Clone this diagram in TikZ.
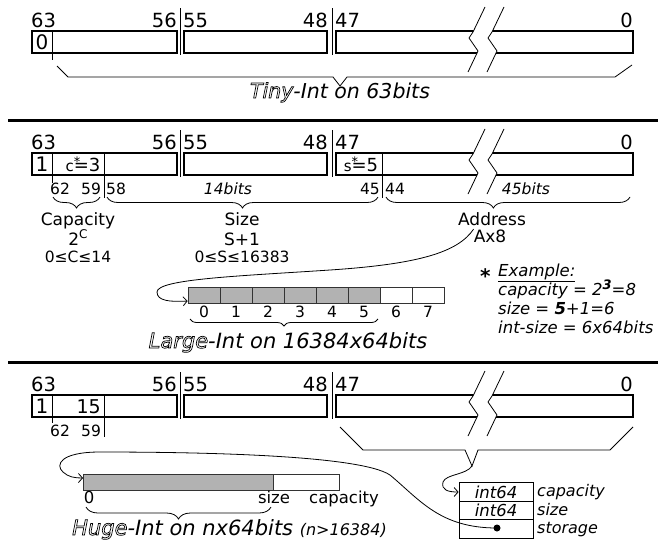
\documentclass[tikz,border=0pt]{standalone}
\usepackage{fontspec}
\setmainfont{DejaVu Sans}
\usetikzlibrary{decorations.pathreplacing,arrows.meta}

\newcommand{\fsz}[1]{\fontsize{#1}{#1}\selectfont}
\newcommand{\hollow}[1]{\special{pdf:literal direct 2 Tr 0.7 w 1 g 0 G}#1\special{pdf:literal direct 0 Tr 0 g}}
\newcommand{\starred}[2]{{\fsz{15}#1}\rlap{\raisebox{5.5pt}{\fsz{13}*}}=#2}

\tikzset{
  bitnum/.style={font=\fsz{19.5}, inner sep=0pt},
  subnum/.style={font=\fsz{15.5}, inner sep=0pt},
  hair/.style={line width=0.8pt},
  wordbox/.style={line width=2.8pt},
  rule/.style={line width=3pt},
  curly/.style={hair, decorate, decoration={brace, mirror, amplitude=#1}},
  curly/.default=11pt,
  cell/.style={draw=black!80, line width=0.7pt, minimum height=16pt, inner sep=0pt},
  used/.style={cell, fill=black!30},
  link/.style={hair, -{Straight Barb[length=4pt,width=9pt]}},
}

\newcommand{\wordrow}[1]{%
\begin{scope}[yshift=-#1pt]
\node[bitnum, anchor=base west] at (31,27) {63};
\node[bitnum, anchor=base east] at (177,27) {56};
\node[bitnum, anchor=base west] at (183,27) {55};
\node[bitnum, anchor=base east] at (328,27) {48};
\node[bitnum, anchor=base west] at (335,27) {47};
\node[bitnum, anchor=base east] at (633,27) {0};
\draw[hair] (180,8) -- (180,55) (332,8) -- (332,55);
\draw[wordbox] (32,31) rectangle (177,53) (184,31) rectangle (327,53) (336,31) rectangle (633,53);
\fill[white] (485,7) -- (473,32) -- (469,38) -- (478,51) -- (468,72) -- (487,72) -- (497,51) -- (488,38) -- (492,32) -- (504,7) -- cycle;
\foreach \d in {0,19} \draw[hair, xshift=\d pt] (485,7) -- (473,32) -- (469,38) -- (478,51) -- (468,72);
\end{scope}}

\begin{document}
\begin{tikzpicture}[x=1pt, y=-1pt]
\useasboundingbox (0,0) rectangle (660,544);

\wordrow{0}
\node[bitnum, font=\fsz{20}, anchor=base] (t0) at (42,49.5) {0};
\draw[hair] (52,31) -- (52,60);
\draw[hair] (57,66) -- (68,77) -- (333,77) -- (340,86) -- (347,77) -- (615,77) -- (632,65);
\node[font=\fsz{20.5}\itshape, anchor=base] (tiny) at (340,98) {\hollow{Tiny}-Int on 63bits};
\draw[rule] (8,120) -- (658,120);

\wordrow{122}
\node[bitnum, font=\fsz{20}, anchor=base] (l1) at (42,171.5) {1};
\node[inner sep=0pt, font=\fsz{18}, anchor=base] (cval) at (83,171.5) {\starred{c}{3}};
\node[inner sep=0pt, font=\fsz{18}, anchor=base] (sval) at (361,171.5) {\starred{s}{5}};
\draw[hair] (52,153) -- (52,183) (104,153) -- (104,198) (382,153) -- (382,198);
\node[subnum, anchor=base west] at (50,194) {62};
\node[subnum, anchor=base west] at (81,194) {59};
\node[subnum, anchor=base west] at (106,194) {58};
\node[subnum, font=\fsz{15.5}\itshape, anchor=base] at (228,194) {14bits};
\node[subnum, anchor=base east] at (380,194) {45};
\node[subnum, anchor=base west] at (385,194) {44};
\node[subnum, font=\fsz{15.5}\itshape, anchor=base] at (526,194) {45bits};
\draw[curly] (53,197) -- (100,197);
\draw[curly] (107,197) -- (378,197);
\draw[curly, decoration={aspect=0.44}] (386,197) -- (630,197);
\node[font=\fsz{17}, anchor=base] (capa) at (78,225) {Capacity};
\node[font=\fsz{17}, anchor=base] at (78,245) {2\raisebox{7pt}{\fsz{12}C}};
\node[font=\fsz{15.5}, anchor=base] at (78,262) {0≤C≤14};
\node[font=\fsz{17}, anchor=base] (size) at (242,225) {Size};
\node[font=\fsz{17}, anchor=base] at (242,245) {S+1};
\node[font=\fsz{15.5}, anchor=base] at (242,262) {0≤S≤16383};
\node[font=\fsz{17}, anchor=base] (addr) at (492,225) {Address};
\node[font=\fsz{17}, anchor=base, inner sep=0pt] (ax) at (490,242) {Ax8};

\foreach \i in {0,...,5} \node[used, minimum width=32pt] (c\i) at (204+32*\i,295) {};
\foreach \i in {6,7} \node[cell, minimum width=32pt] (c\i) at (204+32*\i,295) {};
\foreach \i in {0,...,7} \node[font=\fsz{15.5}, anchor=base] at (204+32*\i,317) {\i};
\draw[curly=7pt] (190,319) -- (378,319);
\node[font=\fsz{21}\itshape, anchor=base] (large) at (288,348) {\hollow{Large}-Int on 16384x64bits};
\draw[link] (ax.north west) .. controls (458,252) and (420,264) .. (330,270) .. controls (240,276) and (157,279) .. (157,292) .. controls (157,301) and (170,302) .. ([yshift=-6pt]c0.west);

\node[font=\fsz{20}\bfseries, anchor=base west, inner sep=0pt] (star) at (480,283) {*};
\node[font=\fsz{16.5}\itshape, anchor=base west, inner sep=0pt] (ex) at (498,276) {\underline{Example:}};
\node[font=\fsz{16.5}\itshape, anchor=base west, inner sep=0pt] at (498,295) {capacity = 2\raisebox{6pt}{\fsz{13}\bfseries 3}=8};
\node[font=\fsz{16.5}\itshape, anchor=base west, inner sep=0pt] at (498,314) {size = \textbf{5}+1=6};
\node[font=\fsz{16.5}\itshape, anchor=base west, inner sep=0pt] at (498,333) {int-size = 6x64bits};
\draw[rule] (8,362) -- (658,362);

\wordrow{364}
\node[bitnum, font=\fsz{20}, anchor=base] (h1) at (42,413.5) {1};
\node[bitnum, font=\fsz{19}, anchor=base east] (h15) at (101,413.5) {15};
\draw[hair] (52,395) -- (52,423) (104,395) -- (104,437);
\node[subnum, anchor=base west] at (50,436) {62};
\node[subnum, anchor=base west] at (81,436) {59};
\draw[hair] (340,427) -- (363,450) -- (465,450) -- (472,466) coordinate (vtip) -- (478,450) -- (610,450) -- (633,427);

\node[used, minimum width=190pt, anchor=west] (harr) at (83,482) {};
\node[cell, minimum width=66pt, anchor=west] (hfree) at (273,482) {};
\node[font=\fsz{16.5}, anchor=base] at (89,503) {0};
\node[font=\fsz{16.5}, anchor=base] at (274,503) {size};
\node[font=\fsz{16.5}, anchor=base] at (344,503) {capacity};
\draw[curly=12pt] (86,507) -- (271,507);
\node[font=\fsz{21}\itshape, anchor=base west, inner sep=0pt] (huge) at (72,535) {\hollow{Huge}-Int on nx64bits {\fsz{16}(n>16384)}};

\node[draw, hair, minimum width=74pt, minimum height=18.5pt, inner sep=0pt, font=\fsz{16.5}\itshape] (cap) at (496,492) {int64};
\node[draw, hair, minimum width=74pt, minimum height=18.5pt, inner sep=0pt, font=\fsz{16.5}\itshape] (siz) at (496,510.5) {int64};
\node[draw, hair, minimum width=74pt, minimum height=18.5pt, inner sep=0pt] (sto) at (496,529) {};
\node[circle, fill, inner sep=0pt, minimum size=7pt] (ptr) at (497,528) {};
\node[font=\fsz{16}\itshape, anchor=base west, inner sep=0pt] at (537,496) {capacity};
\node[font=\fsz{16}\itshape, anchor=base west, inner sep=0pt] at (537,515) {size};
\node[font=\fsz{16}\itshape, anchor=base west, inner sep=0pt] at (537,533) {storage};
\draw[link] (vtip) .. controls (466,475) and (446,474) .. (443,482) .. controls (441,490) and (448,492) .. (cap.west);
\draw[link] (ptr.center) .. controls (440,528) and (420,500) .. (390,475) .. controls (360,455) and (200,452) .. (100,452) .. controls (60,452) and (55,465) .. (63,472) .. controls (68,477) and (75,478) .. ([yshift=4pt]harr.west);
\end{tikzpicture}
\end{document}
